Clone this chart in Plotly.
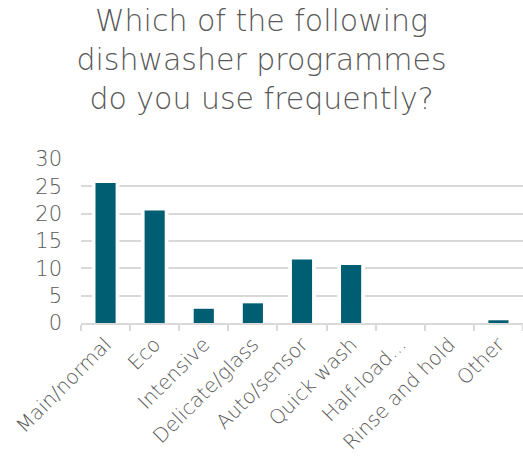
import plotly.graph_objects as go

# Survey responses: share of respondents per dishwasher programme
categories = ["Main/normal", "Eco", "Intensive", "Delicate/glass", "Auto/sensor",
              "Quick wash", "Half-load...", "Rinse and hold", "Other"]
values = [25.6, 20.6, 2.6, 3.6, 11.6, 10.6, 0, 0, 0.5]
y_ticks = [0, 5, 10, 15, 20, 25, 30]

title_text = "Which of the following<br>dishwasher programmes<br>do you use frequently?"

grey = "#595959"
bar_colour = "#005E73"
font_family = "DejaVu Sans ExtraLight, DejaVu Sans Light, DejaVu Sans"

fig = go.Figure()
# white halo behind each bar so gridlines stop short of the bars
fig.add_trace(go.Bar(x=categories, y=values, width=0.56,
                     marker=dict(color="white", line=dict(width=0)),
                     hoverinfo="skip", showlegend=False))
fig.add_trace(go.Bar(x=categories, y=values, width=0.41,
                     marker=dict(color=bar_colour, line=dict(width=0)),
                     showlegend=False))

fig.update_layout(
    width=523, height=462,
    margin=dict(l=81, r=0, t=159, b=139),
    paper_bgcolor="white", plot_bgcolor="white",
    barmode="overlay",
    title=dict(text=title_text, x=0.5, xanchor="center", y=0.932, yanchor="top",
               font=dict(family=font_family, size=30, color=grey)),
    font=dict(family=font_family, color=grey),
)
fig.update_yaxes(range=[0, 30], tickvals=y_ticks, showgrid=True,
                 gridcolor="#D9D9D9", gridwidth=1.5, zeroline=False,
                 showline=False, ticks="", ticklabelstandoff=18,
                 tickfont=dict(family=font_family, size=21, color=grey))
fig.update_xaxes(showline=True, linecolor="#D9D9D9", linewidth=1.5,
                 ticks="outside", tickson="boundaries", ticklen=6,
                 tickcolor="#D9D9D9", tickwidth=1.5, tickangle=-45,
                 tickfont=dict(family=font_family, size=20, color=grey))

fig.write_html("out.html")
